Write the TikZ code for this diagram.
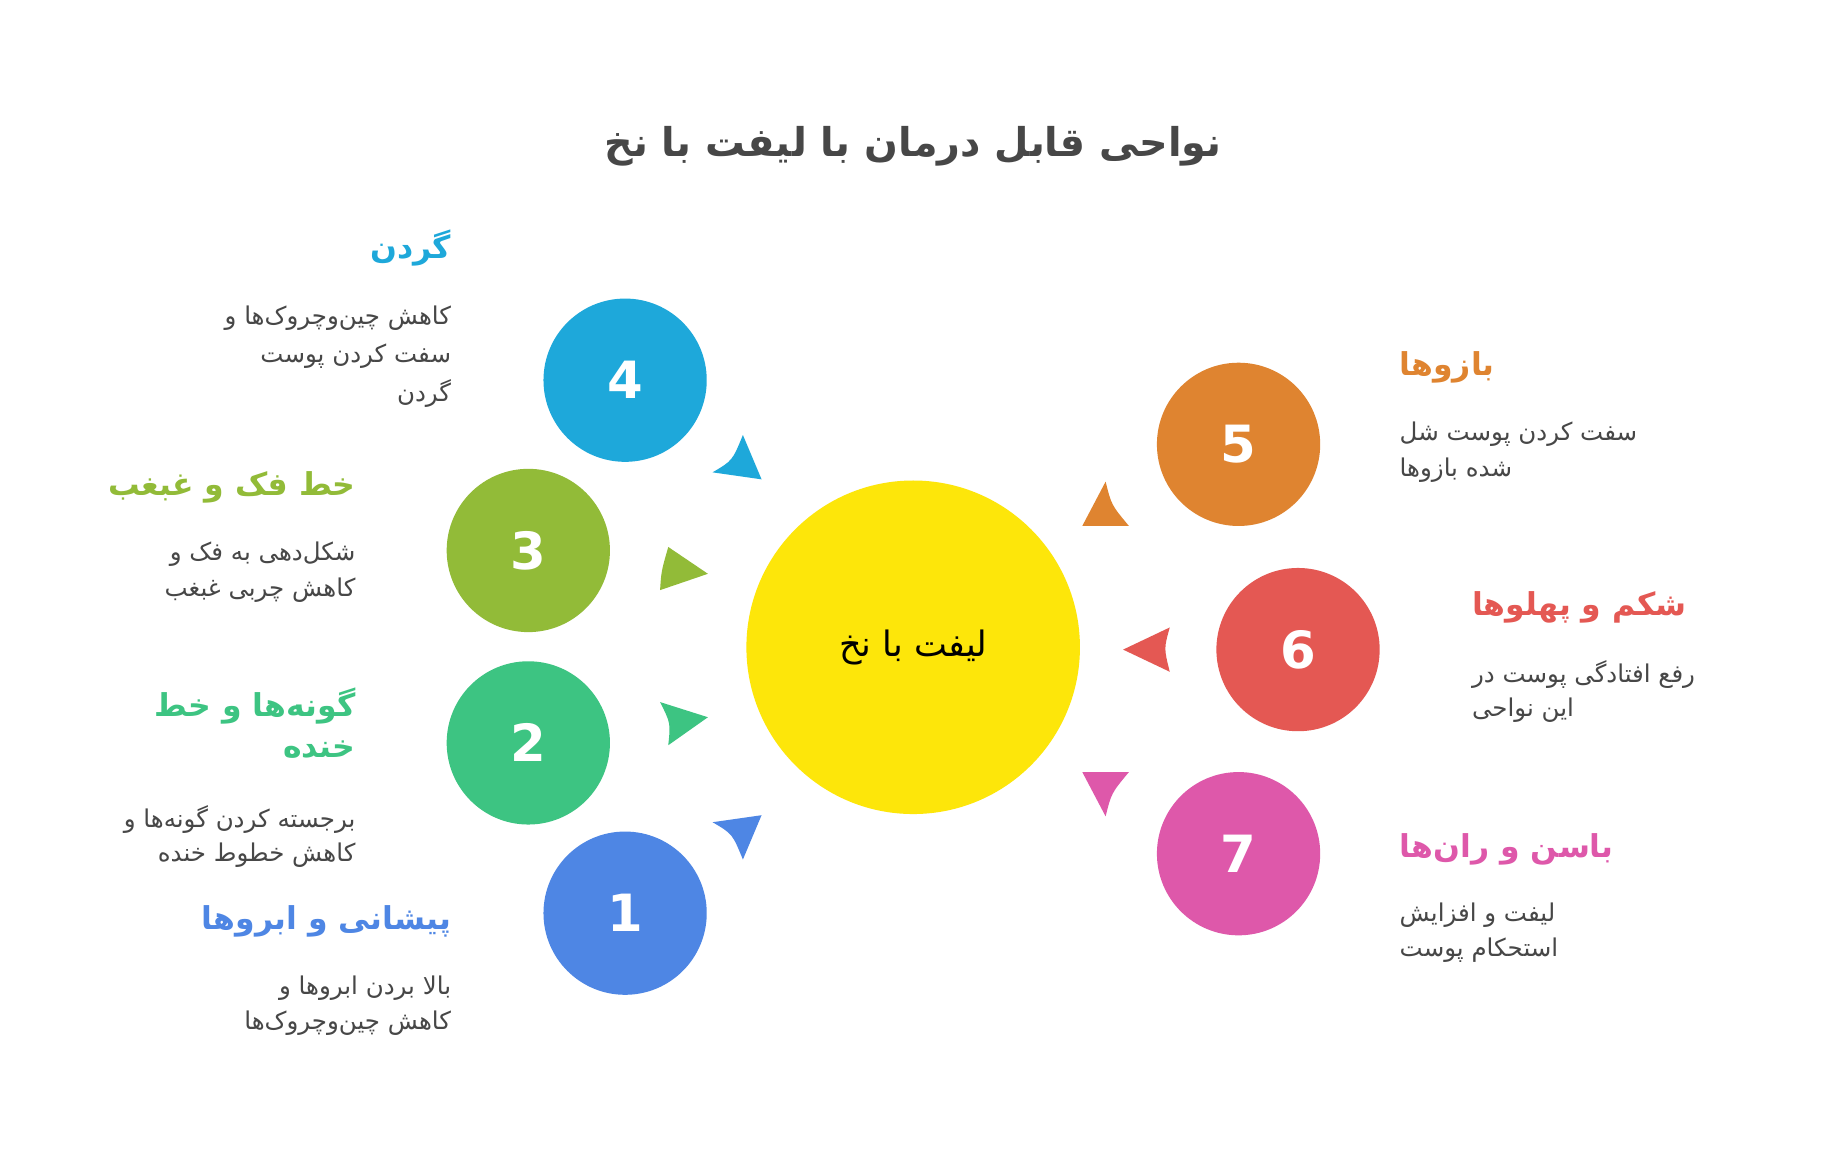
\documentclass[tikz,border=0pt]{standalone}
\usepackage{fontspec}
\setmainfont[Script=Arabic]{DejaVu Sans}
\TeXXeTstate=1
\definecolor{cA}{HTML}{4E86E4}
\definecolor{cB}{HTML}{3DC482}
\definecolor{cC}{HTML}{92BB38}
\definecolor{cD}{HTML}{1EA8DA}
\definecolor{cE}{HTML}{DF8430}
\definecolor{cF}{HTML}{E45853}
\definecolor{cG}{HTML}{DE58AA}
\definecolor{cY}{HTML}{FDE60A}
\definecolor{txt}{HTML}{474747}
\begin{document}
\begin{tikzpicture}[x=1pt,y=-1pt,
  numc/.style={circle,minimum size=140pt,inner sep=0pt,text=white,font=\fontsize{44}{48}\selectfont\bfseries},
  head/.style={inner sep=0pt,font=\fontsize{27}{30}\selectfont\bfseries},
  body/.style={inner sep=0pt,text=txt,font=\fontsize{21}{24}\selectfont}]
\useasboundingbox[fill=white] (0,0) rectangle (1564,988);
\node[inner sep=0pt,text=txt,font=\fontsize{34}{38}\selectfont\bfseries] (title) at (783,125) {\beginR نواحی قابل درمان با لیفت با نخ\endR};
\node[circle,fill=cY,minimum size=286pt,inner sep=0pt,font=\fontsize{30}{34}\selectfont] (hub) at (783,555) {\beginR لیفت با نخ\endR};
\node[numc,fill=cD] (n4) at (536,326) {4};
\node[numc,fill=cC] (n3) at (453,472) {3};
\node[numc,fill=cB] (n2) at (453,637) {2};
\node[numc,fill=cA] (n1) at (536,783) {1};
\node[numc,fill=cE] (n5) at (1062,381) {5};
\node[numc,fill=cF] (n6) at (1113,557) {6};
\node[numc,fill=cG] (n7) at (1062,732) {7};
% triangles
\fill[cD] (637,373) -- (653,411) -- (611,405) .. controls (628,395) .. (637,373) -- cycle;
\fill[cC] (573,469) -- (607,492) -- (566,506) .. controls (567,490) .. (573,469) -- cycle;
\fill[cB] (566,602) -- (607,615) -- (573,639) .. controls (575,620) .. (566,602) -- cycle;
\fill[cA] (611,705) -- (653,699) -- (637,737) .. controls (628,715) .. (611,705) -- cycle;
\fill[cE] (948,413) -- (928,451) -- (968,451) .. controls (953,433) .. (948,413) -- cycle;
\fill[cF] (963,557) -- (1003,538) .. controls (998,556) .. (1003,576) -- cycle;
\fill[cG] (928,662) -- (968,662) .. controls (953,680) .. (948,700) -- cycle;
% left labels
\node[head,text=cD,anchor=east] (h4) at (387,213) {\beginR گردن\endR};
\node[body,anchor=east] (b4a) at (387,273) {\beginR کاهش چین‌وچروک‌ها و\endR};
\node[body,anchor=east] (b4b) at (387,305) {\beginR سفت کردن پوست\endR};
\node[body,anchor=east] (b4c) at (387,337) {\beginR گردن\endR};
\node[head,text=cC,anchor=east] (h3) at (305,418) {\beginR خط فک و غبغب\endR};
\node[body,anchor=east] (b3a) at (305,475) {\beginR شکل‌دهی به فک و\endR};
\node[body,anchor=east] (b3b) at (305,506) {\beginR کاهش چربی غبغب\endR};
\node[head,text=cB,anchor=east] (h2a) at (305,605) {\beginR گونه‌ها و خط\endR};
\node[head,text=cB,anchor=east] (h2b) at (305,643) {\beginR خنده\endR};
\node[body,anchor=east] (b2a) at (305,703) {\beginR برجسته کردن گونه‌ها و\endR};
\node[body,anchor=east] (b2b) at (305,733) {\beginR کاهش خطوط خنده\endR};
\node[head,text=cA,anchor=east] (h1) at (387,790) {\beginR پیشانی و ابروها\endR};
\node[body,anchor=east] (b1a) at (387,847) {\beginR بالا بردن ابروها و\endR};
\node[body,anchor=east] (b1b) at (387,877) {\beginR کاهش چین‌وچروک‌ها\endR};
% right labels
\node[head,text=cE,anchor=west] (h5) at (1200,315) {\beginR بازوها\endR};
\node[body,anchor=west] (b5a) at (1200,372) {\beginR سفت کردن پوست شل\endR};
\node[body,anchor=west] (b5b) at (1200,403) {\beginR شده بازوها\endR};
\node[head,text=cF,anchor=west] (h6) at (1262,521) {\beginR شکم و پهلوها\endR};
\node[body,anchor=west] (b6a) at (1262,578) {\beginR رفع افتادگی پوست در\endR};
\node[body,anchor=west] (b6b) at (1262,609) {\beginR این نواحی\endR};
\node[head,text=cG,anchor=west] (h7) at (1200,728) {\beginR باسن و ران‌ها\endR};
\node[body,anchor=west] (b7a) at (1200,785) {\beginR لیفت و افزایش\endR};
\node[body,anchor=west] (b7b) at (1200,815) {\beginR استحکام پوست\endR};
\end{tikzpicture}
\end{document}
